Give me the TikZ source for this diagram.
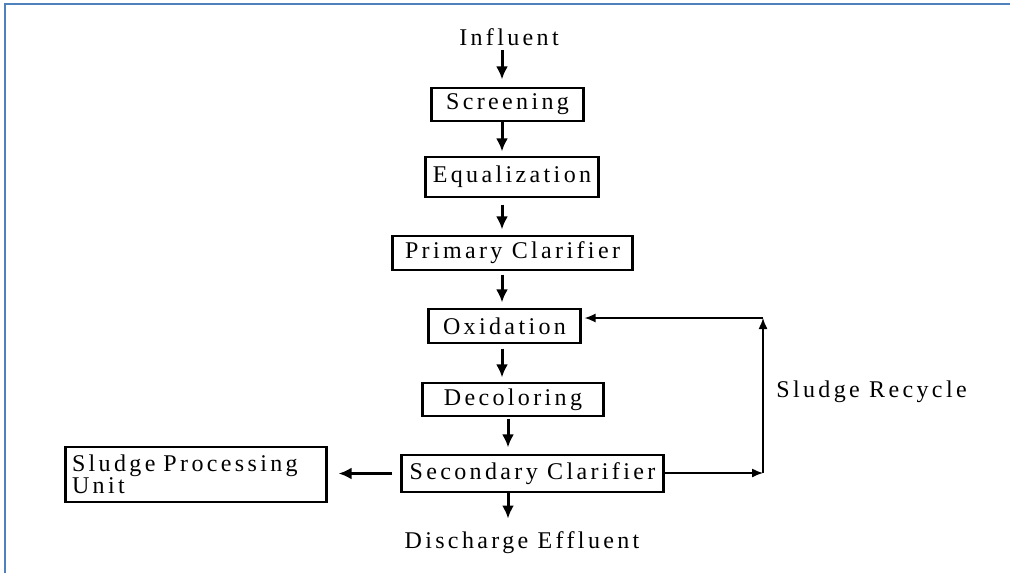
\documentclass[tikz,border=0pt]{standalone}
\usepackage{fontspec}
\usepackage{xcolor}
\usepackage{tikz}
\usetikzlibrary{arrows.meta,positioning}
\newfontfamily\flowfont{Liberation Serif}[LetterSpace=14]
\definecolor{frame}{HTML}{4F81BD}

\begin{document}
\begin{tikzpicture}[x=0.5pt, y=-0.5pt, font=\flowfont\fontsize{12}{11}\selectfont, box/.style={draw,line width=0.6pt,inner sep=0pt,align=center}, side/.style={line width=1.6pt}, arrow/.style={-{Latex[length=6.5pt,width=6pt]},line width=1.5pt}, link/.style={-{Latex[length=5.5pt,width=4.5pt]},line width=0.7pt}, label/.style={inner sep=0pt}]
    \useasboundingbox (0,0) rectangle (1010,573);
    \draw[frame,line width=1.2pt] (5,573) -- (5,4) -- (1010,4);
    \node[label] (in) at (509,37) {Influent};
    \node[box,minimum width=75.5pt,minimum height=16.5pt] (screen) at (507.5,104.5) {Screening};
    \node[box,minimum width=86pt,minimum height=20pt] (equal) at (512,177) {Equalization};
    \node[box,minimum width=119.5pt,minimum height=17pt] (prim) at (512.5,253) {Primary Clarifier};
    \node[box,minimum width=75.5pt,minimum height=17pt] (oxid) at (504.5,326) {Oxidation};
    \node[box,minimum width=90pt,minimum height=16.5pt] (decol) at (513,399.5) {Decoloring};
    \node[box,minimum width=130.5pt,minimum height=18.5pt] (second) at (532.5,473.5) {Secondary Clarifier};
    \node[box,minimum width=130pt,minimum height=27.5pt,text width=124pt,align=left] (sludge) at (196,474.5) {Sludge Processing\\Unit};
    \node[label] (out) at (522,543) {Discharge Effluent};
    \node[label,anchor=west] (recyc) at (776,392) {Sludge Recycle};
    \coordinate (spine) at (502,0);
    \coordinate (low) at (508,0);
    \coordinate (rb) at (763,473);
    \coordinate (rt) at (763,318);
    % thick sides of the boxes
    \foreach \n in {screen,equal,prim,oxid,decol,second,sludge}
      \draw[side] (\n.north west) -- (\n.south west) (\n.north east) -- (\n.south east);
    \draw[arrow] ([yshift=-2pt]in.south -| spine) -- ([yshift=4pt]screen.north -| spine);
    \draw[arrow] (screen.south -| spine) -- ([yshift=2.5pt]equal.north -| spine);
    \draw[arrow] ([yshift=-3.5pt]equal.south -| spine) -- ([yshift=3pt]prim.north -| spine);
    \draw[arrow] ([yshift=-2pt]prim.south -| spine) -- ([yshift=3pt]oxid.north -| spine);
    \draw[arrow] ([yshift=-2.5pt]oxid.south -| spine) -- ([yshift=2.5pt]decol.north -| spine);
    \draw[arrow] ([yshift=-1pt]decol.south -| low) -- ([yshift=3.5pt]second.north -| low);
    \draw[arrow] (second.south -| low) -- ([yshift=6.5pt]out.north -| low);
    \draw[arrow] ([xshift=-4.5pt]second.west) -- ([xshift=6pt]sludge.east |- second.west);
    \draw[link] (second.east |- rb) -- (rb);
    \draw[link] (rb) -- (rt);
    \draw[link] (rt) -- ([xshift=2pt]oxid.east |- rt);
  \end{tikzpicture}
\end{document}
